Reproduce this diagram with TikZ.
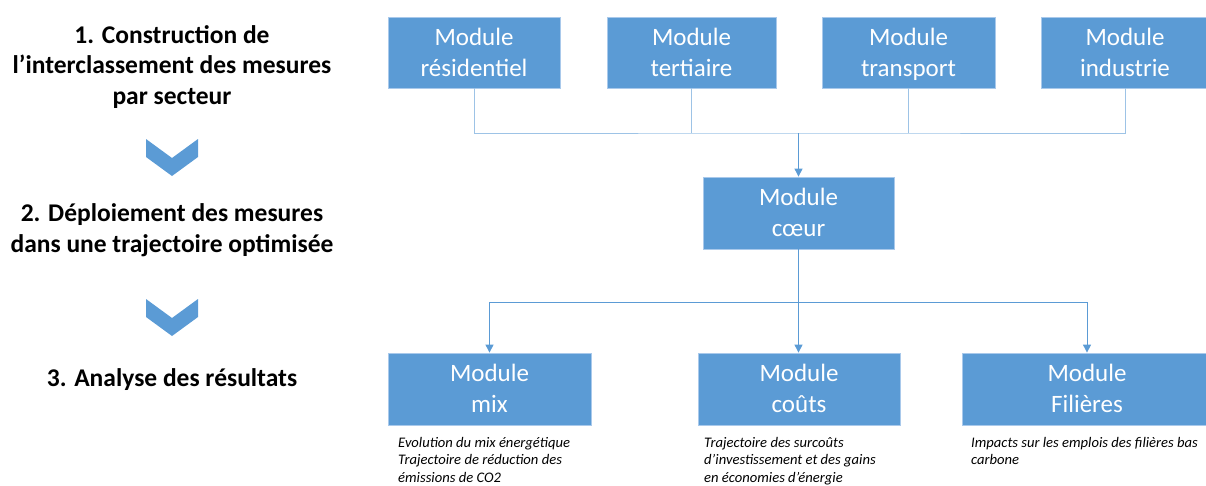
\documentclass[tikz,border=0pt]{standalone}
\usepackage{fontspec}
\setmainfont{Carlito}
\usetikzlibrary{arrows.meta}
\definecolor{boxblue}{HTML}{5B9BD5}
\definecolor{boxedge}{HTML}{A9C9EB}
\definecolor{toplink}{HTML}{9DC3E6}
\newcommand{\twoline}[2]{\rule{0pt}{25.5pt}#1\\\strut #2}
\begin{document}
\begin{tikzpicture}[x=1pt,y=-1pt,
  modbox/.style={fill=boxblue,draw=boxedge,line width=0.8pt,text=white,align=center,
    inner sep=0pt,font=\fontsize{25}{31}\selectfont},
  steptext/.style={align=center,font=\fontsize{25.5}{30.5}\selectfont\bfseries,text=black},
  notetext/.style={align=left,anchor=north west,inner sep=0pt,
    font=\fontsize{14.6}{17.5}\selectfont\itshape,text=black},
  chev/.style={fill=boxblue,draw=none},
  toplinkline/.style={draw=toplink,line width=1pt},
  botlinkline/.style={draw=boxblue,line width=1pt},
  arr/.style={-{Triangle[width=8pt,length=8pt]}}
]
\useasboundingbox (0,0) rectangle (1206,485);
\clip (0,0) rectangle (1206,485);

% left column texts
\node[steptext] (s1) at (172,67) {1. Construction de\\l’interclassement des mesures\\par secteur};
\node[steptext] (s2) at (172,230) {2. Déploiement des mesures\\dans une trajectoire optimisée};
\node[steptext] (s3) at (172,380) {3. Analyse des résultats};

% chevrons
\fill[chev] (146,139) -- (172,158) -- (198,139) -- (198,157) -- (172,176) -- (146,157) -- cycle;
\fill[chev] (146,299) -- (172,318) -- (198,299) -- (198,317) -- (172,336) -- (146,317) -- cycle;

% top modules
\node[modbox,minimum width=172pt,minimum height=71pt] (res) at (474,52.5) {\twoline{Module}{résidentiel}};
\node[modbox,minimum width=169pt,minimum height=71pt] (ter) at (691.5,52.5) {\twoline{Module}{tertiaire}};
\node[modbox,minimum width=173pt,minimum height=71pt] (tra) at (908.5,52.5) {\twoline{Module}{transport}};
\node[modbox,minimum width=168pt,minimum height=71pt] (ind) at (1125,52.5) {\twoline{Module}{industrie}};

% core
\node[modbox,minimum width=191pt,minimum height=72pt] (core) at (798.5,213) {\twoline{Module}{cœur}};

% bottom modules
\node[modbox,minimum width=203pt,minimum height=72pt] (mix) at (489.5,389) {\twoline{Module}{mix}};
\node[modbox,minimum width=202pt,minimum height=72pt] (cou) at (799,389) {\twoline{Module}{coûts}};
\node[modbox,minimum width=250pt,minimum height=72pt] (fil) at (1087,389) {\twoline{Module}{Filières}};

% notes
\node[notetext] (n1) at (398,437) {Evolution du mix énergétique\\Trajectoire de réduction des\\émissions de CO2};
\node[notetext] (n2) at (704,437) {Trajectoire des surcoûts\\d’investissement et des gains\\en économies d’énergie};
\node[notetext] (n3) at (971,437) {Impacts sur les emplois des filières bas\\carbone};

% top connectors
\coordinate (j1) at (798.5,133);
\draw[toplinkline] (res.south) |- (j1) -| (ind.south);
\draw[toplinkline] (ter.south) -- (ter.south |- j1);
\draw[toplinkline] (tra.south) -- (tra.south |- j1);
\draw[botlinkline,arr] (j1) -- (core.north);

% bottom connectors
\coordinate (j2) at (798.5,302);
\draw[botlinkline,arr] (core.south) -- (core.south |- cou.north);
\draw[botlinkline,arr] (j2) -| (mix.north);
\draw[botlinkline,arr] (j2) -| (fil.north);
\end{tikzpicture}
\end{document}
